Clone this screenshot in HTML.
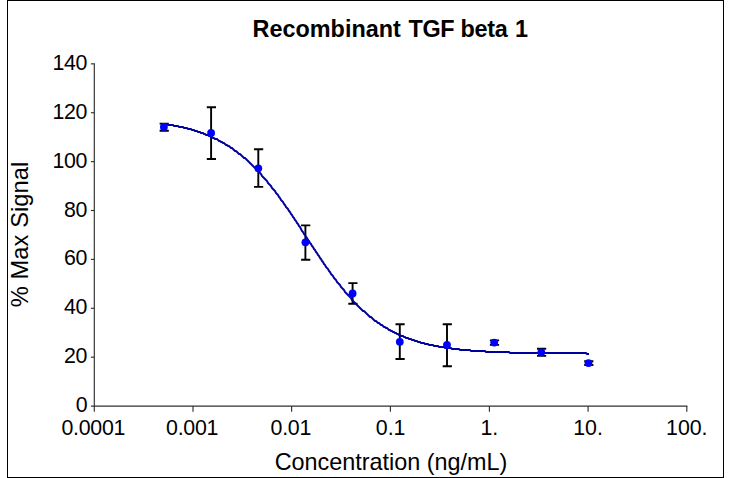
<!DOCTYPE html>
<html><head><meta charset="utf-8"><title>Recombinant TGF beta 1</title>
<style>html,body{margin:0;padding:0;background:#fff;}body{width:730px;height:478px;overflow:hidden;}svg{display:block;}text{font-family:"Liberation Sans",sans-serif;fill:#000;}</style></head><body>
<svg width="730" height="478" viewBox="0 0 730 478">
<rect x="0" y="0" width="730" height="478" fill="#fff"/>
<rect x="7.5" y="0.5" width="716" height="477" fill="none" stroke="#000" stroke-width="1"/>
<text x="252.6" y="36.5" font-size="23.4" font-weight="bold" text-anchor="start">Recombinant</text>
<text x="527.6" y="36.5" font-size="23.4" font-weight="bold" letter-spacing="-0.3" text-anchor="end">TGF beta <tspan dx="1.3">1</tspan></text>
<g stroke="#303030" stroke-width="1.15" fill="none">
<path d="M94.3 63.35V411.8"/>
<path d="M90.9 406.05H687.35"/>
<path d="M90.9 357.16H94.3"/>
<path d="M90.9 308.28H94.3"/>
<path d="M90.9 259.39H94.3"/>
<path d="M90.9 210.51H94.3"/>
<path d="M90.9 161.62H94.3"/>
<path d="M90.9 112.73H94.3"/>
<path d="M90.9 63.85H94.3"/>
<path d="M193.00 406.05V411.8"/>
<path d="M291.60 406.05V411.8"/>
<path d="M390.40 406.05V411.8"/>
<path d="M489.40 406.05V411.8"/>
<path d="M588.10 406.05V411.8"/>
<path d="M686.80 406.05V411.8"/>
</g>
<text x="87.2" y="412.1" font-size="21.33" letter-spacing="-0.3" text-anchor="end">0</text>
<text x="87.2" y="363.2" font-size="21.33" letter-spacing="-0.3" text-anchor="end">20</text>
<text x="87.2" y="314.3" font-size="21.33" letter-spacing="-0.3" text-anchor="end">40</text>
<text x="87.2" y="265.4" font-size="21.33" letter-spacing="-0.3" text-anchor="end">60</text>
<text x="87.2" y="216.5" font-size="21.33" letter-spacing="-0.3" text-anchor="end">80</text>
<text x="87.2" y="167.6" font-size="21.33" letter-spacing="-0.3" text-anchor="end">100</text>
<text x="87.2" y="118.7" font-size="21.33" letter-spacing="-0.3" text-anchor="end">120</text>
<text x="87.2" y="69.8" font-size="21.33" letter-spacing="-0.3" text-anchor="end">140</text>
<text x="93.3" y="435.2" font-size="21.33" letter-spacing="-0.25" text-anchor="middle">0.0001</text>
<text x="192.1" y="435.2" font-size="21.33" letter-spacing="-0.25" text-anchor="middle">0.001</text>
<text x="290.8" y="435.2" font-size="21.33" letter-spacing="-0.25" text-anchor="middle">0.01</text>
<text x="390.6" y="435.2" font-size="21.33" text-anchor="middle">0.1</text>
<text x="489.3" y="435.2" font-size="21.33" text-anchor="middle">1.</text>
<text x="588.0" y="435.2" font-size="21.33" text-anchor="middle">10.</text>
<text x="686.8" y="435.2" font-size="21.33" text-anchor="middle">100.</text>
<text x="391" y="469.7" font-size="23.4" text-anchor="middle">Concentration (ng/mL)</text>
<text transform="translate(27.8,234.4) rotate(-90)" font-size="23.7" letter-spacing="0.07" text-anchor="middle">% Max Signal</text>
<g stroke="#000" stroke-width="1.9" fill="none">
<path d="M163.9 123.6V130.8M159.6 123.6H168.8M159.6 130.8H168.8"/>
<path d="M211.1 107.3V159.0M206.8 107.3H216.0M206.8 159.0H216.0"/>
<path d="M258.3 149.3V186.9M254.0 149.3H263.2M254.0 186.9H263.2"/>
<path d="M305.4 225.4V259.8M301.1 225.4H310.3M301.1 259.8H310.3"/>
<path d="M352.6 283.1V303.8M348.3 283.1H357.5M348.3 303.8H357.5"/>
<path d="M399.8 324.2V359.0M395.5 324.2H404.7M395.5 359.0H404.7"/>
<path d="M447.0 324.2V366.2M442.7 324.2H451.9M442.7 366.2H451.9"/>
<path d="M494.2 340.4V344.9M489.9 340.4H499.1M489.9 344.9H499.1"/>
<path d="M541.3 348.8V355.9M537.0 348.8H546.2M537.0 355.9H546.2"/>
<path d="M588.5 361.3V365.0M584.2 361.3H593.4M584.2 365.0H593.4"/>
</g>
<path d="M164 124 165 124 166 124 167 124 168 125 169 125 170 125 171 125 172 125 173 125 174 126 175 126 176 126 177 126 178 126 179 127 180 127 181 127 182 127 183 127 184 128 185 128 186 128 187 128 188 129 189 129 190 129 191 129 192 130 193 130 194 130 195 131 196 131 197 131 198 132 199 132 200 132 201 133 202 133 203 133 204 134 205 134 206 135 207 135 208 135 209 136 210 136 211 137 212 137 213 138 214 138 215 139 216 139 217 139 218 140 219 141 220 141 221 142 222 142 223 143 224 143 225 144 226 145 227 145 228 146 229 146 230 147 231 148 232 148 233 149 234 150 235 151 236 151 237 152 238 153 239 154 240 154 241 155 242 156 243 157 244 158 245 158 246 159 247 160 248 161 249 162 250 163 251 164 252 165 253 166 254 167 255 168 256 169 257 170 258 171 259 172 260 173 261 174 262 176 263 177 264 178 265 179 266 180 267 181 268 183 269 184 270 185 271 186 272 188 273 189 274 190 275 191 276 193 277 194 278 195 279 197 280 198 281 200 282 201 283 202 284 204 285 205 286 207 287 208 288 209 289 211 290 212 291 214 292 215 293 217 294 218 295 220 296 221 297 223 298 224 299 226 300 227 301 229 302 231 303 232 304 234 305 235 306 237 307 238 308 240 309 241 310 243 311 244 312 246 313 247 314 249 315 250 316 252 317 253 318 255 319 256 320 258 321 259 322 261 323 262 324 264 325 265 326 267 327 268 328 269 329 271 330 272 331 274 332 275 333 276 334 278 335 279 336 280 337 282 338 283 339 284 340 285 341 287 342 288 343 289 344 290 345 292 346 293 347 294 348 295 349 296 350 297 351 298 352 300 353 301 354 302 355 303 356 304 357 305 358 306 359 307 360 308 361 309 362 310 363 311 364 311 365 312 366 313 367 314 368 315 369 316 370 317 371 317 372 318 373 319 374 320 375 321 376 321 377 322 378 323 379 323 380 324 381 325 382 325 383 326 384 327 385 327 386 328 387 328 388 329 389 330 390 330 391 331 392 331 393 332 394 332 395 333 396 333 397 334 398 334 399 335 400 335 401 336 402 336 403 336 404 337 405 337 406 338 407 338 408 338 409 339 410 339 411 339 412 340 413 340 414 340 415 341 416 341 417 341 418 342 419 342 420 342 421 343 422 343 423 343 424 343 425 344 426 344 427 344 428 344 429 345 430 345 431 345 432 345 433 345 434 346 435 346 436 346 437 346 438 346 439 347 440 347 441 347 442 347 443 347 444 347 445 348 446 348 447 348 448 348 449 348 450 348 451 348 452 349 453 349 454 349 455 349 456 349 457 349 458 349 459 349 460 350 461 350 462 350 463 350 464 350 465 350 466 350 467 350 468 350 469 350 470 350 471 351 472 351 473 351 474 351 475 351 476 351 477 351 478 351 479 351 480 351 481 351 482 351 483 351 484 351 485 351 486 352 487 352 488 352 489 352 490 352 491 352 492 352 493 352 494 352 495 352 496 352 497 352 498 352 499 352 500 352 501 352 502 352 503 352 504 352 505 352 506 352 507 352 508 352 509 352 510 353 511 353 512 353 513 353 514 353 515 353 516 353 517 353 518 353 519 353 520 353 521 353 522 353 523 353 524 353 525 353 526 353 527 353 528 353 529 353 530 353 531 353 532 353 533 353 534 353 535 353 536 353 537 353 538 353 539 353 540 353 541 353 542 353 543 353 544 353 545 353 546 353 547 353 548 353 549 353 550 353 551 353 552 353 553 353 554 353 555 353 556 353 557 353 558 353 559 353 560 353 561 353 562 353 563 353 564 353 565 353 566 353 567 353 568 353 569 353 570 353 571 353 572 353 573 353 574 353 575 353 576 353 577 353 578 353 579 353 580 353 581 353 582 353 583 353 584 353 585 353 586 353 587 354 588 354 589 354" fill="none" stroke="#00009c" stroke-width="1.9" stroke-linejoin="round"/>
<circle cx="163.9" cy="126.9" r="3.9" fill="#0000ff"/>
<circle cx="211.1" cy="132.9" r="3.9" fill="#0000ff"/>
<circle cx="258.3" cy="168.3" r="3.9" fill="#0000ff"/>
<circle cx="305.4" cy="242.3" r="3.9" fill="#0000ff"/>
<circle cx="352.6" cy="293.4" r="3.9" fill="#0000ff"/>
<circle cx="399.8" cy="341.8" r="3.9" fill="#0000ff"/>
<circle cx="447.0" cy="344.8" r="3.9" fill="#0000ff"/>
<circle cx="494.2" cy="342.6" r="3.9" fill="#0000ff"/>
<circle cx="541.3" cy="352.3" r="3.9" fill="#0000ff"/>
<circle cx="588.5" cy="363.1" r="3.9" fill="#0000ff"/>
</svg></body></html>
